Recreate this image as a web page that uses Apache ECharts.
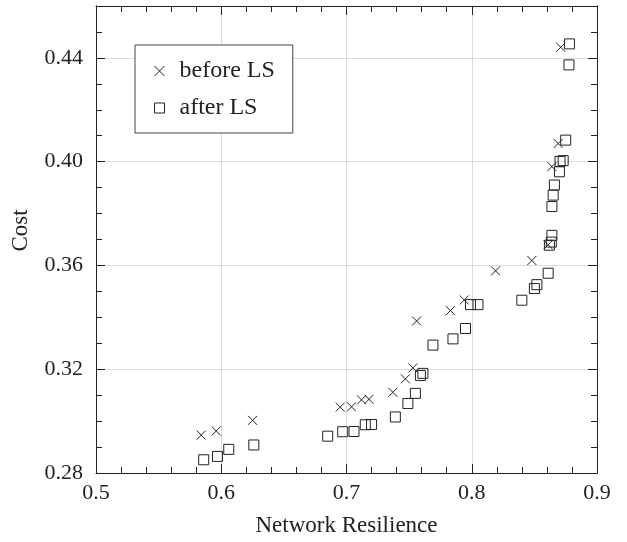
<!DOCTYPE html>
<html>
<head>
<meta charset="utf-8">
<script src="https://cdn.jsdelivr.net/npm/echarts@6/dist/echarts.min.js"></script>
<style>
  html, body { margin: 0; padding: 0; background: #fff; }
  #main { width: 627px; height: 542px; }
</style>
</head>
<body>
<div id="main"></div>
<script>
// before LS (x = network resilience, y = cost)
var beforeX = [0.584, 0.596, 0.625, 0.695, 0.704, 0.712, 0.718, 0.737, 0.747, 0.753,
  0.756, 0.783, 0.794, 0.819, 0.848, 0.861, 0.864, 0.869, 0.871];
var beforeY = [0.2946, 0.2962, 0.3003, 0.3054, 0.3055, 0.3082, 0.3084, 0.3111, 0.3163, 0.3205,
  0.3386, 0.3426, 0.3467, 0.3579, 0.3619, 0.3680, 0.3981, 0.4070, 0.4441];

// after LS
var afterX = [0.586, 0.597, 0.606, 0.626, 0.685, 0.697, 0.706, 0.715, 0.720, 0.739,
  0.749, 0.755, 0.759, 0.761, 0.769, 0.785, 0.795, 0.799, 0.805, 0.840,
  0.850, 0.852, 0.861, 0.862, 0.8635, 0.864, 0.864, 0.865, 0.866, 0.870,
  0.8705, 0.873, 0.875, 0.878, 0.8776];
var afterY = [0.2851, 0.2864, 0.2891, 0.2908, 0.2942, 0.2959, 0.2960, 0.2986, 0.2987, 0.3016,
  0.3068, 0.3107, 0.3176, 0.3184, 0.3293, 0.3317, 0.3357, 0.3449, 0.3449, 0.3466,
  0.3511, 0.3526, 0.3570, 0.3678, 0.3690, 0.3716, 0.3827, 0.3871, 0.3910, 0.3961,
  0.4001, 0.4004, 0.4083, 0.4454, 0.4373];

var seriesNames = ['before LS', 'after LS'];
var xMin = 0.5, xMax = 0.9, xStep = 0.1;
var yMin = 0.28, yMax = 0.46, yStep = 0.04;

function pairs(xs, ys) {
  return xs.map(function (x, i) { return [x, ys[i]]; });
}

var font = "'Liberation Serif', 'DejaVu Serif', serif";
var ink = '#222';
var crossPath = 'path://M0,0L10,10M10,0L0,10';

function xAxis(pos, showLabel) {
  return {
    type: 'value', position: pos, min: xMin, max: xMax, interval: xStep,
    name: showLabel ? 'Network Resilience' : '',
    nameLocation: 'middle', nameGap: 41,
    nameTextStyle: { fontFamily: font, fontSize: 23, color: ink },
    axisLine: { show: true, onZero: false, lineStyle: { color: ink, width: 1 } },
    axisTick: { show: true, inside: true, length: 9, lineStyle: { color: ink } },
    minorTick: { show: true, splitNumber: 5, length: 6, lineStyle: { color: ink } },
    axisLabel: { show: showLabel, fontFamily: font, fontSize: 22, color: ink, margin: 9,
      formatter: function (v) { return (+v.toFixed(2)).toString(); } },
    splitLine: { show: showLabel, lineStyle: { color: '#dcdcdc', width: 1 } },
    minorSplitLine: { show: false }
  };
}

function yAxis(pos, major, showLabel) {
  return {
    type: 'value', position: pos, min: yMin, max: yMax,
    interval: major ? yStep : 0.01,
    name: showLabel ? 'Cost' : '',
    nameLocation: 'middle', nameGap: 64,
    nameTextStyle: { fontFamily: font, fontSize: 23, color: ink, padding: [0, 0, 0, 18] },
    axisLine: { show: true, onZero: false, lineStyle: { color: ink, width: 1 } },
    axisTick: { show: true, inside: true, length: major ? 9 : 6, lineStyle: { color: ink } },
    axisLabel: { show: showLabel, showMaxLabel: false, fontFamily: font, fontSize: 22, color: ink, margin: 13,
      formatter: function (v) { return v.toFixed(2); } },
    splitLine: { show: showLabel, lineStyle: { color: '#dcdcdc', width: 1 } }
  };
}

var chart = echarts.init(document.getElementById('main'), null, { renderer: 'canvas' });

chart.setOption({
  animation: false,
  backgroundColor: '#fff',
  grid: { left: 96, right: 30, top: 6, bottom: 68 },
  legend: {
    orient: 'vertical', left: 135, top: 45,
    backgroundColor: '#fff', borderColor: '#444', borderWidth: 1,
    padding: [14, 18, 13, 19], itemGap: 13, itemWidth: 10, itemHeight: 10,
    textStyle: { fontFamily: font, fontSize: 24, color: ink, padding: [0, 0, 0, 10] },
    data: [
      { name: seriesNames[0], icon: crossPath, itemStyle: { color: 'rgba(0,0,0,0)', borderColor: ink, borderWidth: 1 } },
      { name: seriesNames[1], icon: 'rect', itemStyle: { color: 'rgba(0,0,0,0)', borderColor: ink, borderWidth: 1 } }
    ]
  },
  xAxis: [xAxis('bottom', true), xAxis('top', false)],
  yAxis: [yAxis('left', true, true), yAxis('left', false, false),
          yAxis('right', true, false), yAxis('right', false, false)],
  series: [
    {
      name: seriesNames[0], type: 'scatter', xAxisIndex: 0, yAxisIndex: 0,
      symbol: crossPath, symbolSize: 9,
      itemStyle: { color: 'rgba(0,0,0,0)', borderColor: ink, borderWidth: 1, opacity: 1 },
      data: pairs(beforeX, beforeY)
    },
    {
      name: seriesNames[1], type: 'scatter', xAxisIndex: 0, yAxisIndex: 0,
      symbol: 'rect', symbolSize: 10,
      itemStyle: { color: 'rgba(0,0,0,0)', borderColor: ink, borderWidth: 1, opacity: 1 },
      data: pairs(afterX, afterY)
    }
  ]
});
</script>
</body>
</html>
